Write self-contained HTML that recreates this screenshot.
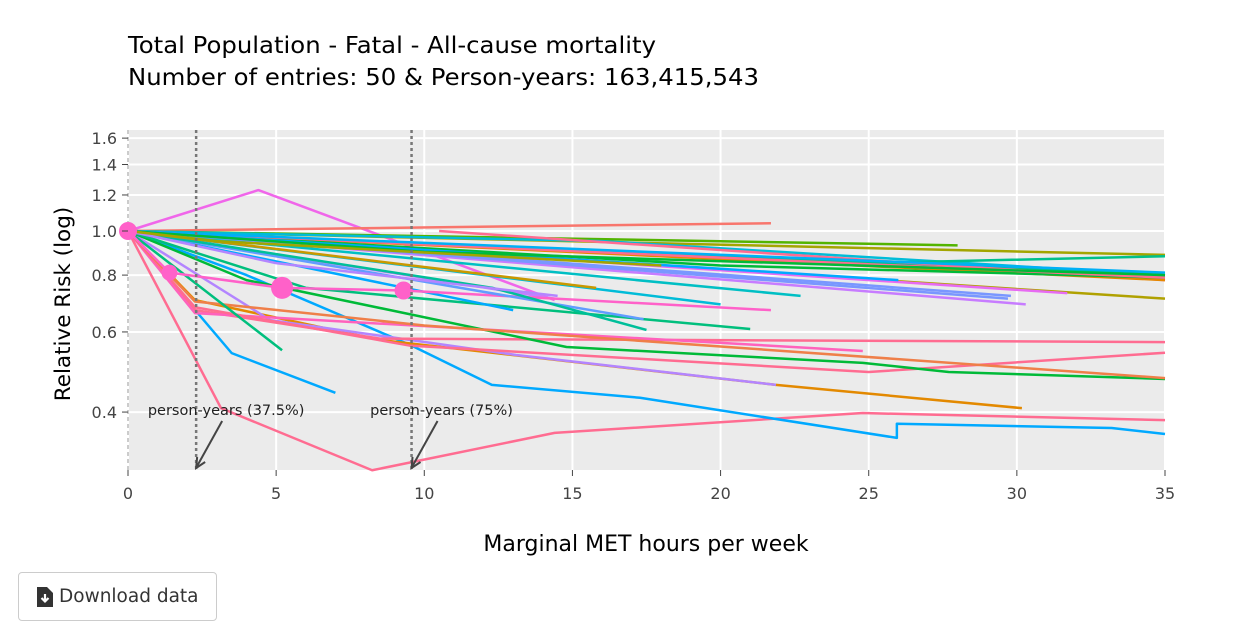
<!DOCTYPE html>
<html><head><meta charset="utf-8"><style>
body{margin:0;background:#fff;width:1242px;height:632px;overflow:hidden;font-family:"DejaVu Sans","Liberation Sans",sans-serif}
#btn{position:absolute;left:18px;top:572px;width:199px;height:49px;border:1px solid #ccc;border-radius:4px;box-sizing:border-box;font-size:18.5px;color:#333;display:flex;align-items:center;padding-left:18px;background:#fff}
</style></head><body>
<svg id="chart" width="1242" height="632" style="position:absolute;left:0;top:0;font-family:'DejaVu Sans','Liberation Sans',sans-serif">
<text x="128" y="53" font-size="23.5" fill="#000" textLength="528" lengthAdjust="spacingAndGlyphs">Total Population - Fatal - All-cause mortality</text>
<text x="128" y="85" font-size="23.5" fill="#000" textLength="631" lengthAdjust="spacingAndGlyphs">Number of entries: 50 &amp; Person-years: 163,415,543</text>
<rect x="128" y="130" width="1037" height="340" fill="#EBEBEB"/>
<g id="grid"></g><g id="lines"></g><g id="anno"></g><g id="axes"></g>
<text x="646" y="551" font-size="22" text-anchor="middle" fill="#000">Marginal MET hours per week</text>
<text transform="translate(70,304) rotate(-90)" font-size="21.5" text-anchor="middle" fill="#000">Relative Risk (log)</text>
</svg>
<div id="btn"><svg width="16" height="20" viewBox="0 0 16 20" style="margin-right:6px"><path d="M0 0h10l6 6v14H0z" fill="#333"/><path d="M8 7v7M4.5 11l3.5 3.5 3.5-3.5" stroke="#fff" stroke-width="2.2" fill="none"/></svg>Download data</div>
<script>
const xTicks=[0,5,10,15,20,25,30,35];
const yTicks=[0.4,0.6,0.8,1.0,1.2,1.4,1.6];
const yTickLabels=["0.4","0.6","0.8","1.0","1.2","1.4","1.6"];
const colors=["#FF6C91","#00A9FF","#00A9FF","#E38900","#B385FF","#FF6C91","#FF62BC","#FF6C91","#00BA38","#EF7F49","#00BF7D","#00BF7D","#F066EA","#F8766D","#A3A500","#53B400","#00BCD8","#00C08B","#00C08B","#FF6C91","#B0A100","#00A9FF","#C77CFF","#C77CFF","#7997FF","#00BFC4","#FF61C9","#619CFF","#00BCD8","#00BF9A","#E58700","#00BA38","#FF6C91","#00B0F6","#E76BF3","#7997FF","#00A9FF","#00BA38","#C99800","#B385FF","#A3A500"];
const series=[
[[0,1],[3.14,0.408],[8.24,0.298],[14.4,0.36],[24.8,0.398],[35,0.384]],
[[0,1],[3.5,0.539],[7,0.441]],
[[0,1],[4,0.8],[9.52,0.562],[12.28,0.459],[17.28,0.43],[25.95,0.351],[25.95,0.377],[33.2,0.369],[35,0.358]],
[[0,1],[2.26,0.705],[8.5,0.576],[21.87,0.459],[30.17,0.408]],
[[0,1],[4.8,0.637],[13.1,0.534],[21.87,0.459]],
[[0,1],[2.26,0.67],[8.5,0.58],[35,0.57]],
[[0,1],[2.26,0.66],[24.8,0.545]],
[[0,1],[2.26,0.68],[9.5,0.56],[25,0.49],[35,0.54]],
[[0,1],[4,0.78],[14.8,0.556],[24.8,0.513],[27.7,0.49],[35,0.473]],
[[0,1],[2.26,0.7],[10,0.62],[35,0.475]],
[[0,1],[5.2,0.547]],
[[0,1],[6,0.75],[21,0.609]],
[[0,1],[4.4,1.23],[14.4,0.705]],
[[0,1],[21.7,1.04]],
[[0,1],[35,0.886]],
[[0,1],[28,0.93]],
[[0,1],[16,0.95],[35,0.8]],
[[0,1],[35,0.8]],
[[0,1],[25,0.85],[35,0.88]],
[[10.5,1.0],[35,0.78]],
[[0,1],[35,0.71]],
[[0,1],[13,0.67]],
[[0,1],[30.3,0.69]],
[[0,1],[14.4,0.71]],
[[0,1],[29.8,0.72]],
[[0,1],[22.7,0.72]],
[[0,1],[1.4,0.81],[5.2,0.75],[9.3,0.74],[14.4,0.71],[21.7,0.67]],
[[0,1],[17.4,0.64]],
[[0,1],[20,0.69]],
[[0,1],[12.3,0.75],[17.5,0.606]],
[[0,1],[35,0.78]],
[[0,1],[20,0.84],[35,0.79]],
[[0,1],[35,0.79]],
[[0,1],[35,0.81]],
[[0,1],[31.7,0.73]],
[[0,1],[29.7,0.71]],
[[0,1],[26,0.78]],
[[0,1],[10,0.9],[35,0.8]],
[[0,1],[15.8,0.75]],
[[0,1],[5,0.85],[14.5,0.72]],
[[0,1],[3,0.95],[18,0.84]]
];
const markerX=[0,1.4,5.2,9.3];
const markerY=[1.0,0.81,0.75,0.74];
const markerR=[9,8,11,9];
const refLinesX=[2.3,9.57];
const refLabels=["person-years (37.5%)","person-years (75%)"];
const X=v=>128+v*1037/35;
const Y=v=>231-Math.log10(v)*455;
const NS="http://www.w3.org/2000/svg";
function mk(tag,parent,attrs){const e=document.createElementNS(NS,tag);for(const k in attrs)e.setAttribute(k,attrs[k]);document.getElementById(parent).appendChild(e);return e;}
xTicks.forEach(t=>{
 const g=mk('line','grid',{x1:X(t),x2:X(t),y1:130,y2:470,stroke:'#fff','stroke-width':2});
 
 
 const l=mk('text','axes',{x:X(t),y:499,'font-size':16,'text-anchor':'middle',fill:'#444'});
 
 
 l.textContent=t;
 const tk=mk('line','axes',{x1:X(t),x2:X(t),y1:470,y2:476,stroke:'#444'});
 
 
});
yTicks.forEach((t,i)=>{
 const g=mk('line','grid',{x1:128,x2:1165,y1:Y(t),y2:Y(t),stroke:'#fff','stroke-width':2});
 
 
 const l=mk('text','axes',{x:117,y:Y(t)+6,'font-size':16,'text-anchor':'end',fill:'#444'});
 
 
 l.textContent=yTickLabels[i];
 const tk=mk('line','axes',{x1:122,x2:128,y1:Y(t),y2:Y(t),stroke:'#444'});
 
 
});
const z=mk('line','grid',{x1:X(0),x2:X(0),y1:130,y2:470,stroke:'#999','stroke-dasharray':'4,3'});


series.forEach((s,i)=>{
 const p=mk('polyline','lines',{points:s.map(d=>X(d[0])+','+Y(d[1])).join(' '),fill:'none',stroke:colors[i],'stroke-width':2.5,'stroke-linejoin':'round'});
 
 
});
markerX.forEach((m,i)=>{
 const c=mk('circle','lines',{cx:X(m),cy:Y(markerY[i]),r:markerR[i],fill:'#FF61C9'});
 
 
});
refLinesX.forEach((r,i)=>{
 const l=mk('line','anno',{x1:X(r),x2:X(r),y1:130,y2:470,stroke:'#777','stroke-width':2.5,'stroke-dasharray':'3,3'});
 
 
 const t=mk('text','anno',{x:X(r)+30,y:415,'font-size':14.5,'text-anchor':'middle',fill:'#222'});
 
 
 t.textContent=refLabels[i];
 const a=mk('line','anno',{x1:X(r)+26,x2:X(r)+1,y1:421,y2:466,stroke:'#444','stroke-width':2});
 
 
 const h=mk('polyline','anno',{points:(X(r)+1)+','+457+' '+(X(r))+','+468+' '+(X(r)+9)+','+462,fill:'none',stroke:'#444','stroke-width':2});
 
 
});
</script>
</body></html>
